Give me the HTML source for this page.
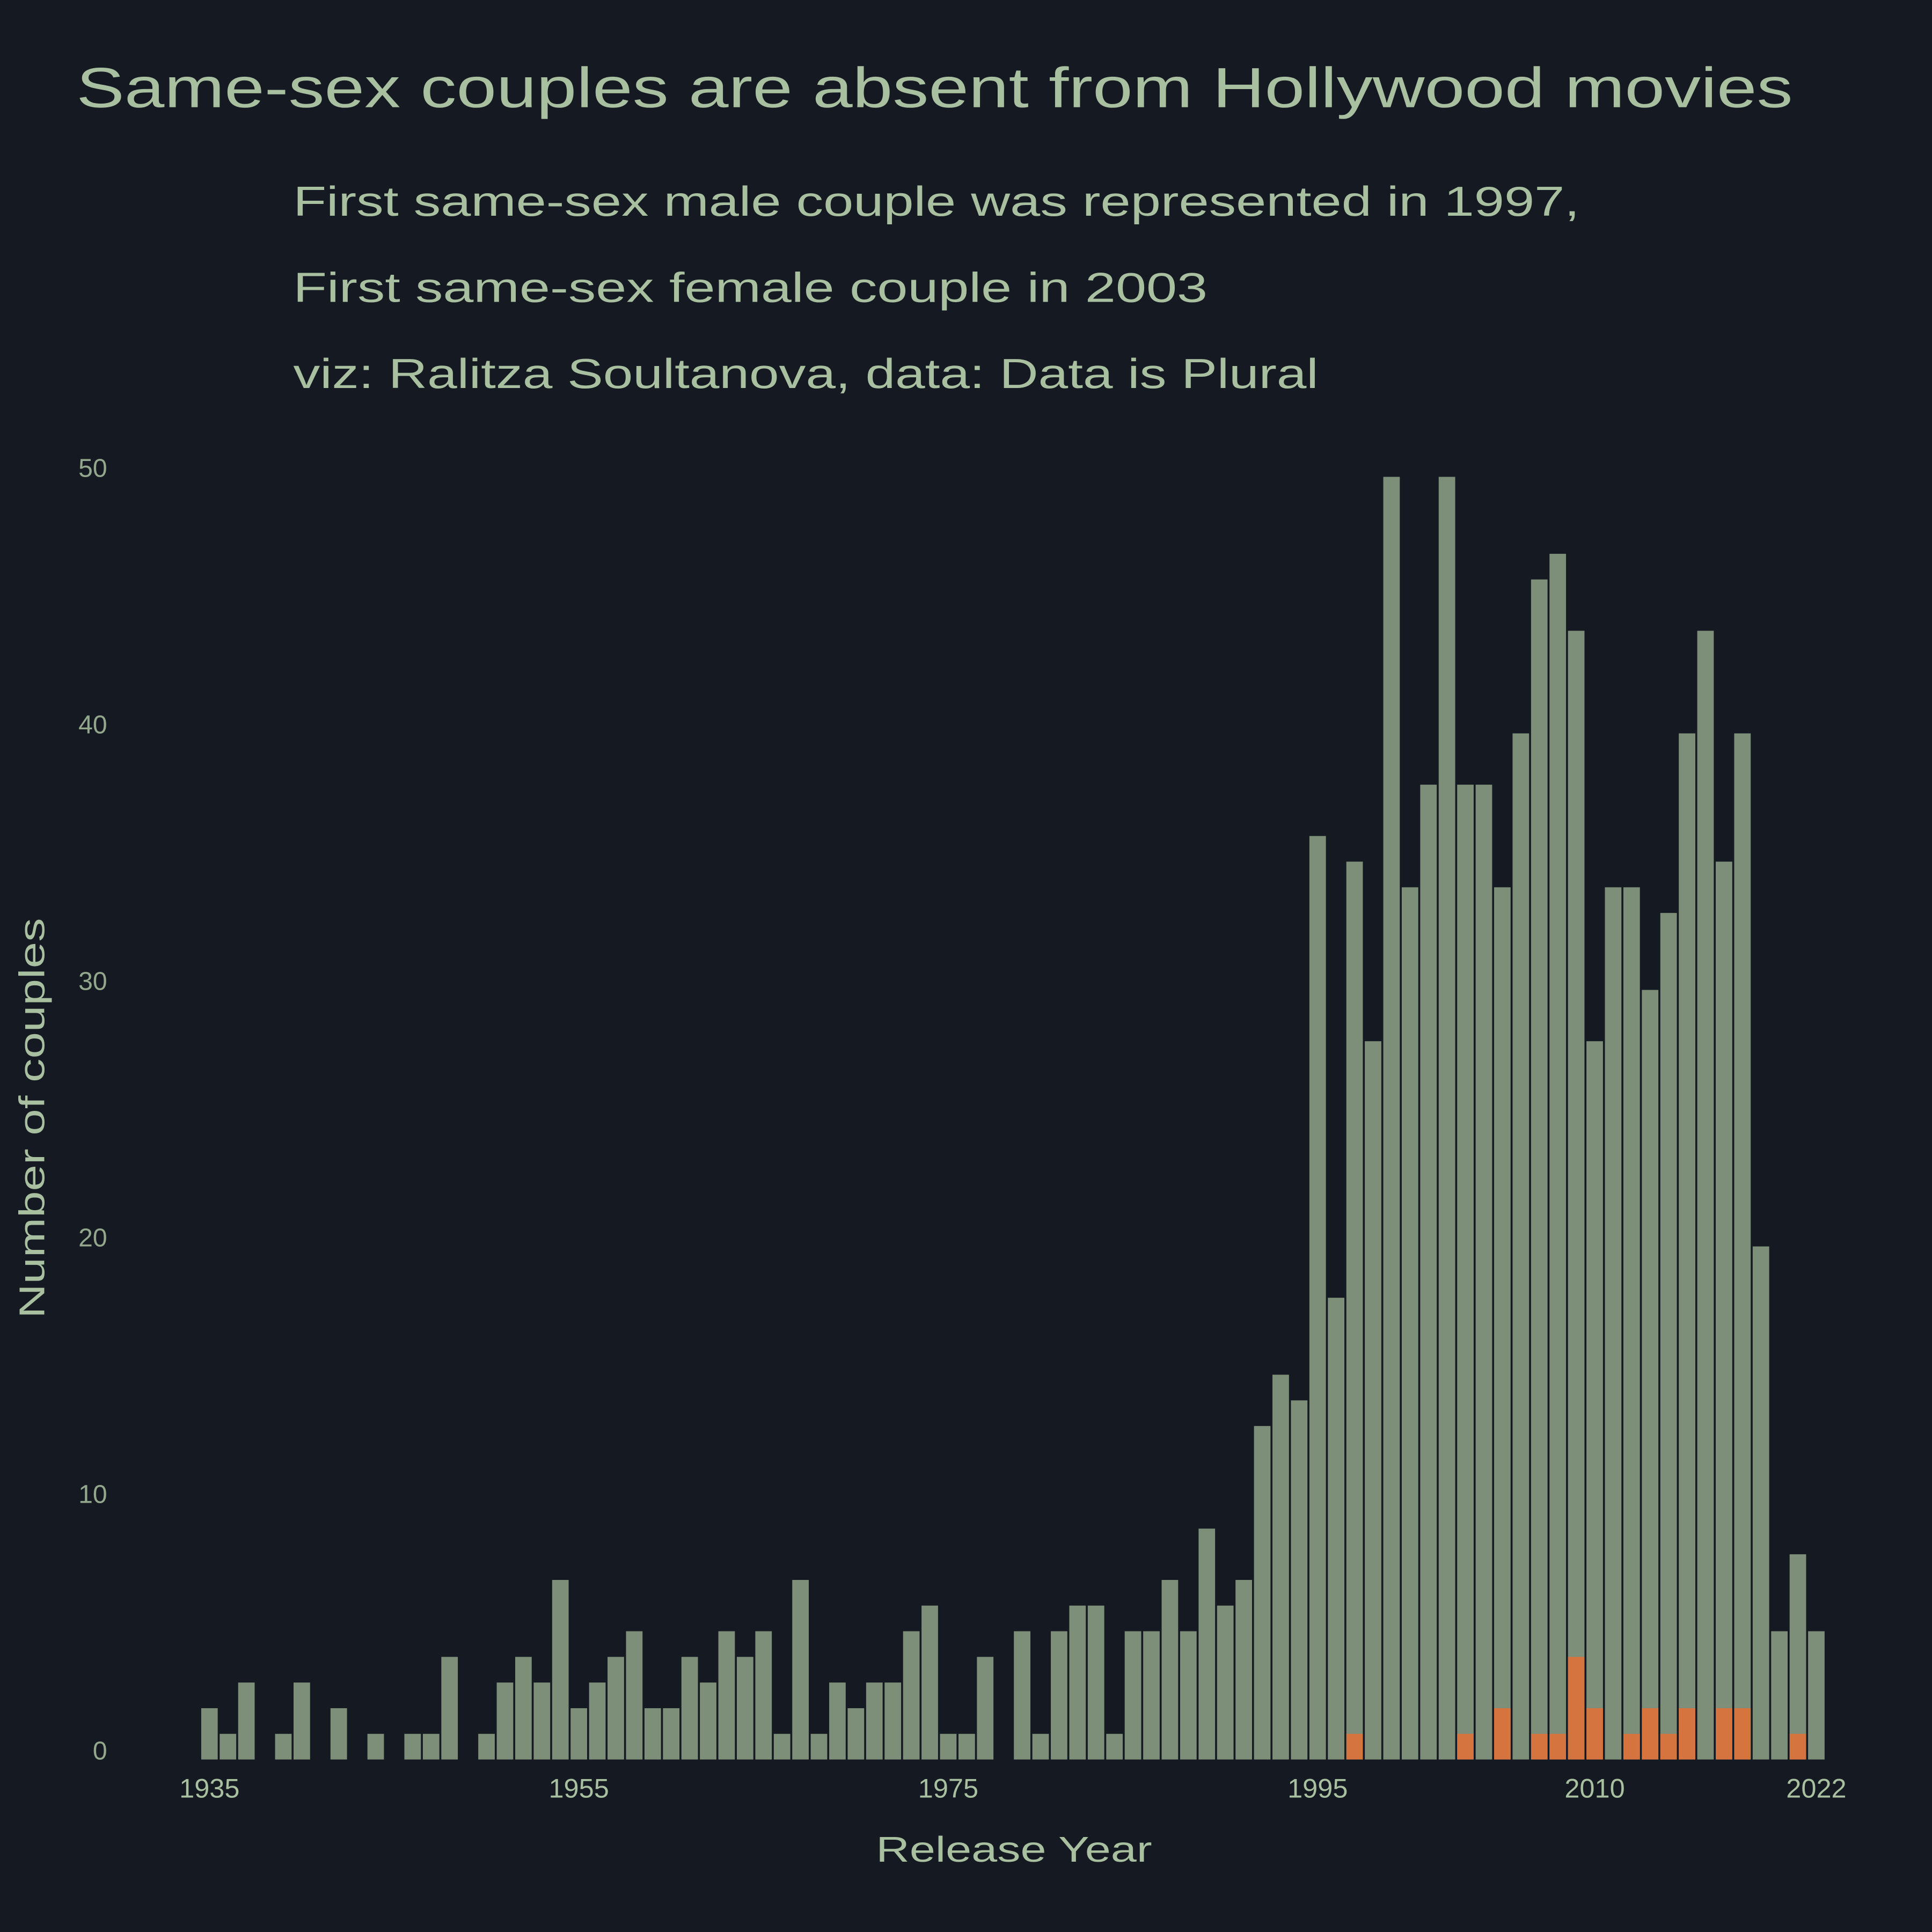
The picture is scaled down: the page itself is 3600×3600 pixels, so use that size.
<!DOCTYPE html>
<html><head><meta charset="utf-8"><style>
html,body{margin:0;padding:0;background:#151922;}
svg{display:block;}
text{font-family:"Liberation Sans",sans-serif;fill:#a9c0a0;}
</style></head><body>
<svg id="chart" width="3600" height="3600" viewBox="0 0 1568 1568" xmlns="http://www.w3.org/2000/svg">
<rect x="0" y="0" width="1568" height="1568" fill="#151922"/>
<text x="62" y="87" font-size="46" textLength="1393" lengthAdjust="spacingAndGlyphs">Same-sex couples are absent from Hollywood movies</text>
<text x="238" y="175" font-size="34" textLength="1044" lengthAdjust="spacingAndGlyphs">First same-sex male couple was represented in 1997,</text>
<text x="238" y="245" font-size="34" textLength="742" lengthAdjust="spacingAndGlyphs">First same-sex female couple in 2003</text>
<text x="238" y="315" font-size="34" textLength="832" lengthAdjust="spacingAndGlyphs">viz: Ralitza Soultanova, data: Data is Plural</text>
<g id="bars"></g>
<g id="yticks"></g>
<g id="xticks"></g>
<text x="711" y="1511" font-size="29" textLength="224" lengthAdjust="spacingAndGlyphs">Release Year</text>
<text transform="translate(36,1070) rotate(-90)" font-size="29" textLength="325" lengthAdjust="spacingAndGlyphs">Number of couples</text>
</svg>
<script>
const years = [];
for (let y = 1935; y <= 2022; y++) years.push(y);
const totals = [2,1,3,0,1,3,0,2,0,1,0,1,1,4,0,1,3,4,3,7,2,3,4,5,2,2,4,3,5,4,5,1,7,1,3,2,3,3,5,6,1,1,4,0,5,1,5,6,6,1,5,5,7,5,9,6,7,13,15,14,36,18,35,28,50,34,38,50,38,38,34,40,46,47,44,28,34,34,30,33,40,44,35,40,20,5,8,5];
const sameSexYears = [1997,2003,2005,2007,2008,2009,2010,2012,2013,2014,2015,2017,2018,2021];
const sameSexCounts = [1,1,2,1,1,4,2,1,2,1,2,2,2,1];
const yTicks = [0,10,20,30,40,50];
const xTicks = [1935,1955,1975,1995,2010,2022];

const NS = "http://www.w3.org/2000/svg";
const x = yr => 170 + (yr - 1935) * 14.99;
const y = v => 1428 - v * 20.82;
const bw = 13.4;
const bars = document.getElementById('bars');
years.forEach((yr, i) => {
  const v = totals[i];
  if (!v) return;
  const r = document.createElementNS(NS, 'rect');
  
  
  r.setAttribute('x', x(yr) - bw / 2);
  r.setAttribute('y', y(v));
  r.setAttribute('width', bw);
  r.setAttribute('height', y(0) - y(v));
  r.setAttribute('fill', '#7e8f79');
  bars.appendChild(r);
});
sameSexYears.forEach((yr, i) => {
  const v = sameSexCounts[i];
  const r = document.createElementNS(NS, 'rect');
  
  
  r.setAttribute('x', x(yr) - bw / 2);
  r.setAttribute('y', y(v));
  r.setAttribute('width', bw);
  r.setAttribute('height', y(0) - y(v));
  r.setAttribute('fill', '#d5743e');
  bars.appendChild(r);
});
const yg = document.getElementById('yticks');
yTicks.forEach(t => {
  const tx = document.createElementNS(NS, 'text');
  
  
  tx.setAttribute('x', 87);
  tx.setAttribute('y', y(t));
  tx.setAttribute('font-size', '21');
  tx.setAttribute('text-anchor', 'end');
  tx.setAttribute('opacity', '0.85');
  tx.textContent = t;
  yg.appendChild(tx);
});
const xg = document.getElementById('xticks');
xTicks.forEach(t => {
  const tx = document.createElementNS(NS, 'text');
  
  
  tx.setAttribute('x', x(t));
  tx.setAttribute('y', 1459);
  tx.setAttribute('font-size', '22');
  tx.setAttribute('text-anchor', 'middle');
  tx.textContent = t;
  xg.appendChild(tx);
});
</script>
</body></html>
